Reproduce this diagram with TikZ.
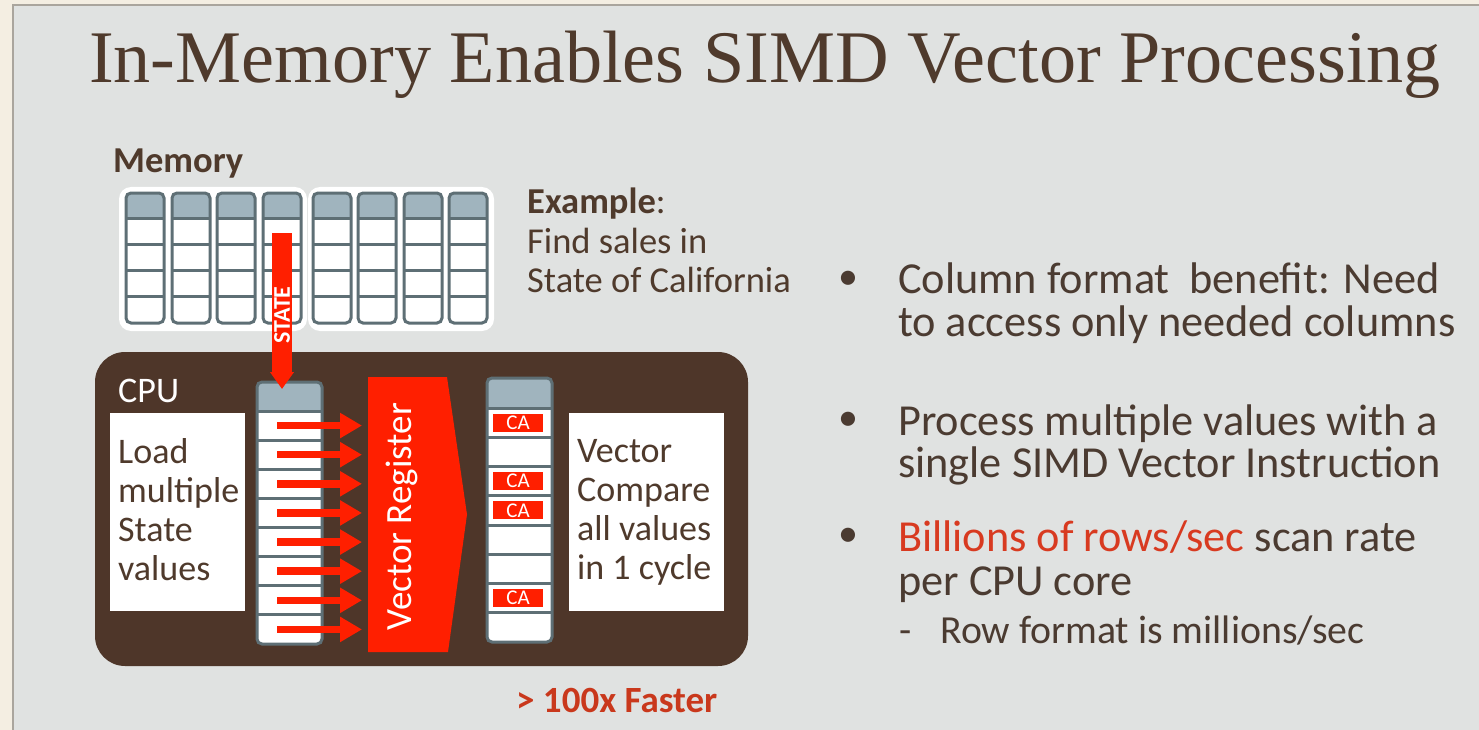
\documentclass[tikz,border=0pt]{standalone}
\usepackage{fontspec}
\setmainfont{Carlito}
\newfontfamily\titlefont{Liberation Serif}
\usetikzlibrary{arrows.meta}
\definecolor{cream}{HTML}{F4EEE2}
\definecolor{panel}{HTML}{E0E2E1}
\definecolor{panelline}{HTML}{AAA59D}
\definecolor{ink}{HTML}{4F3A2C}
\definecolor{bodyink}{HTML}{4B3B31}
\definecolor{cpubrown}{HTML}{4E3629}
\definecolor{colline}{HTML}{5E6F75}
\definecolor{colhead}{HTML}{A0B4BE}
\definecolor{hot}{HTML}{FF1F00}
\definecolor{textred}{HTML}{D83A20}
\definecolor{fastred}{HTML}{C9381C}

\newcommand\cellstack[7]{%
  \node[inner sep=0pt, outer sep=0pt, minimum width={(#4-#2)*1pt},
        minimum height={(#5-#3)*1pt}] (#1) at ({(#2+#4)/2},{(#3+#5)/2}) {};
  \begin{scope}
    \clip[rounded corners=5pt] (#2,#3) rectangle (#4,#5);
    \fill[white] (#2,#3) rectangle (#4,#5);
    \fill[colhead] (#2,#3) rectangle (#4,#6);
    \foreach \k in {1,...,#7}{%
      \pgfmathsetmacro\yy{#6+(\k-1)*(#5-#6)/#7}
      \draw[colline, line width=3pt] (#2,\yy) -- (#4,\yy);
    }
  \end{scope}
  \draw[colline, line width=3pt, rounded corners=5pt] (#2,#3) rectangle (#4,#5);
}

\begin{document}
\begin{tikzpicture}[x=1pt,y=-1pt,
  lbl/.style={inner sep=0pt, anchor=base west, text=ink, font=\fontsize{36}{40}\selectfont},
  bul/.style={inner sep=0pt, anchor=base west, text=bodyink, font=\fontsize{44.3}{50}\selectfont},
  subbul/.style={inner sep=0pt, anchor=base west, text=bodyink, font=\fontsize{39.8}{44}\selectfont},
  dot/.style={inner sep=0pt, anchor=center, text=bodyink, font=\fontsize{40}{44}\selectfont},
  whitebox/.style={fill=white, draw=none, inner sep=0pt, outer sep=0pt},
  rowarrow/.style={hot, line width=7.5pt, -{Triangle[length=22pt,width=24pt]}, shorten >=6pt},
  statearrow/.style={hot, line width=20pt, -{Triangle[length=17pt,width=23pt]}},
  cabox/.style={fill=hot, text=white, minimum width=50pt, minimum height=18pt,
                inner sep=0pt, font=\fontsize{21}{21}\selectfont},
]
\useasboundingbox (0,0) rectangle (1479,730);
% background
\fill[cream] (0,0) rectangle (1479,730);
\fill[panel] (13,5) rectangle (1490,740);
\draw[panelline, line width=1.5pt] (13,740) -- (13,5) -- (1490,5);

% title
\node[inner sep=0pt, anchor=base, text=ink, font=\titlefont\fontsize{74.2}{80}\selectfont]
  (title) at (765,83) {In-Memory Enables SIMD Vector Processing};

% memory
\node[lbl, font=\bfseries\fontsize{36.5}{40}\selectfont] (memlbl) at (113,173) {Memory};
\node[whitebox, rounded corners=12pt, minimum width=188pt, minimum height=144pt] (memA) at (213,259) {};
\node[whitebox, rounded corners=12pt, minimum width=186pt, minimum height=144pt] (memB) at (401,259) {};
\foreach \i/\x in {1/126,2/172,3/217,4/263,5/313,6/358,7/404,8/449}{%
  \pgfmathsetmacro\xr{\x+38}
  \cellstack{m\i}{\x}{193}{\xr}{323}{218}{4}
}

% example text
\node[lbl, font=\fontsize{36.5}{40}\selectfont] (ex1) at (527,213) {\textbf{Example}:};
\node[lbl, font=\fontsize{36.5}{40}\selectfont] (ex2) at (527,253) {Find sales in};
\node[lbl, font=\fontsize{36.5}{40}\selectfont] (ex3) at (527,292) {State of California};

% CPU
\node[fill=cpubrown, rounded corners=30pt, inner sep=0pt, minimum width=653pt,
      minimum height=314pt] (cpu) at (421.5,509) {};
\node[lbl, text=white] (cpulbl) at (118,402) {CPU};

\node[whitebox, minimum width=135pt, minimum height=198pt] (loadbox) at (177.5,512) {};
\foreach \t [count=\i] in {Load, multiple, State, values}{%
  \node[lbl] (lt\i) at (118,{463+39.1*(\i-1)}) {\t};
}
\node[whitebox, minimum width=155pt, minimum height=198pt] (cmpbox) at (646.5,512) {};
\foreach \t [count=\i] in {Vector, Compare, all values, in 1 cycle}{%
  \node[lbl] (ct\i) at (577,{462+39.3*(\i-1)}) {\t};
}

% load column and compare column
\cellstack{ld}{257}{382}{322}{644}{411}{8}
\cellstack{cmp}{487}{378}{552}{642}{408}{8}

% vector register
\node[inner sep=0pt, outer sep=0pt, minimum width=79pt, minimum height=275pt] (vr) at (407.5,514.5) {};
\fill[hot] (vr.north west) -- (vr.north east) -- ([xshift=20pt]vr.east)
   -- ([xshift=1pt]vr.south east) -- (vr.south west) -- cycle;
\node[inner sep=0pt, rotate=90, text=white, font=\fontsize{37}{40}\selectfont]
  (vrlbl) at (402,516.5) {Vector Register};

% row arrows
\foreach \i in {1,...,8}{%
  \pgfmathsetmacro\yc{411+(\i-0.5)*29.125}
  \coordinate (lr\i) at (277,\yc);
  \draw[rowarrow] (lr\i) -- (lr\i -| vr.west);
}

% CA matches
\foreach \i in {1,3,4,7}{%
  \pgfmathsetmacro\yc{408+(\i-0.5)*29.25}
  \node[cabox] (ca\i) at (518,\yc) {CA};
}

% STATE arrow
\draw[statearrow] ([yshift=-40pt]m4.north) -- ([yshift=-7pt]m4.north |- ld.north);
\node[inner sep=0pt, rotate=90, text=white, font=\bfseries\fontsize{24}{24}\selectfont]
  (statelbl) at (282,315) {STATE};

% faster
\node[lbl, text=fastred, font=\bfseries\fontsize{37}{40}\selectfont] (fast) at (516,712) {> 100x Faster};

% bullets
\node[dot] (b1) at (848,280) {•};
\node[dot] (b2) at (848,421) {•};
\node[dot] (b3) at (848,537) {•};
\node[bul] (t1) at (898,293) {Column format\ \ benefit: Need};
\node[bul] (t2) at (898,336.5) {to access only needed columns};
\node[bul] (t3) at (898,435) {Process multiple values with a};
\node[bul] (t4) at (898,477.5) {single SIMD Vector Instruction};
\node[bul] (t5) at (898,551) {\textcolor{textred}{Billions of rows/sec} scan rate};
\node[bul] (t6) at (898,595) {per CPU core};
\node[subbul] (d1) at (899,643) {-};
\node[subbul] (t7) at (940,643) {Row format is millions/sec};
\end{tikzpicture}
\end{document}
